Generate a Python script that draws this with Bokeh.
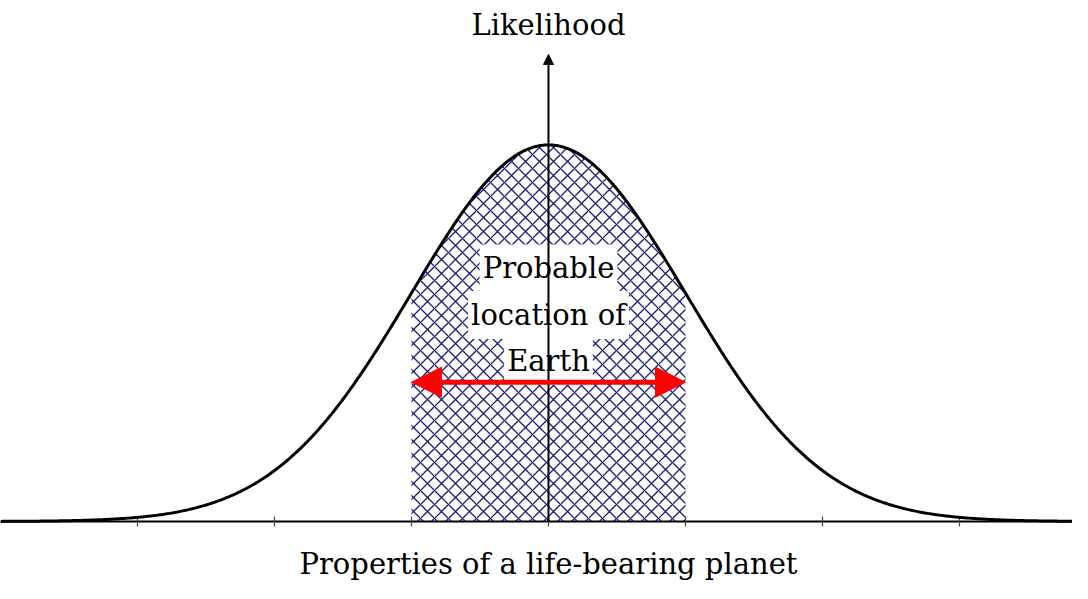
import numpy as np
from bokeh.plotting import figure
from bokeh.models import Range1d, Arrow, NormalHead, ColumnDataSource
from bokeh.core.properties import value
from bokeh.embed import file_html
from bokeh.resources import INLINE

# ---- data ----
mean = 0.0
sd = 1.0
x_min, x_max = -4.0, 4.0
tick_positions = [-3, -2, -1, 0, 1, 2, 3]
region_lo, region_hi = -1.0, 1.0          # "probable location" band
arrow_level = 0.37                         # height of the red double arrow (relative)
y_axis_top = 1.24                          # top of the Likelihood arrow (relative)
box_lines = ["Probable", "location of", "Earth"]
box_line_y = [0.672, 0.548, 0.426]
x_label = "Properties of a life-bearing planet"
y_label = "Likelihood"

xs = np.linspace(x_min, x_max, 801)
pdf = np.exp(-0.5 * ((xs - mean) / sd) ** 2)   # normalised so peak = 1
mask = (xs >= region_lo) & (xs <= region_hi)

FONT = value("DejaVu Serif")

p = figure(width=1072, height=583, output_backend="svg", toolbar_location=None,
           x_range=Range1d(-4.0, 3.825), y_range=Range1d(-0.1646, 1.3834),
           min_border=0, outline_line_color=None)
p.axis.visible = False
p.grid.visible = False
p.background_fill_color = "white"
p.border_fill_color = "white"

# hatched region
p.varea(x=xs[mask], y1=np.zeros(mask.sum()), y2=pdf[mask], fill_alpha=0,
        hatch_pattern="diagonal_cross", hatch_color="#1c1c80", hatch_scale=14,
        hatch_weight=1.3)

# horizontal axis line
p.line(x=[x_min, x_max], y=[0, 0], line_color="black", line_width=2)

# ticks
tick_len = 0.013
p.segment(x0=tick_positions, y0=[-tick_len] * len(tick_positions),
          x1=tick_positions, y1=[tick_len] * len(tick_positions),
          line_color="#444444", line_width=1.2)

# vertical axis arrow
p.add_layout(Arrow(x_start=mean, y_start=0, x_end=mean, y_end=y_axis_top,
                   line_color="black", line_width=2,
                   end=NormalHead(size=10, fill_color="black", line_color="black")))

# curve
p.line(x=xs, y=pdf, line_color="black", line_width=3)

# labels with white background
src = ColumnDataSource(dict(x=[mean] * len(box_lines), y=box_line_y, t=box_lines))
p.text(x="x", y="y", text="t", source=src, text_align="center",
       text_baseline="middle", text_font=FONT, text_font_size="29px",
       text_color="black", background_fill_color="white",
       padding=dict(left=3, right=3, top=7, bottom=7))

# red double arrow
p.add_layout(Arrow(x_start=region_lo, y_start=arrow_level, x_end=region_hi,
                   y_end=arrow_level, line_color="red", line_width=5,
                   start=NormalHead(size=30, fill_color="red", line_color="red"),
                   end=NormalHead(size=30, fill_color="red", line_color="red")))

# axis titles
p.text(x=[mean], y=[1.318], text=[y_label], text_align="center",
       text_baseline="middle", text_font=FONT, text_font_size="29px",
       text_color="black")
p.text(x=[mean], y=[-0.112], text=[x_label], text_align="center",
       text_baseline="middle", text_font=FONT, text_font_size="29px",
       text_color="black")

open("out.html", "w").write(file_html(p, INLINE))
